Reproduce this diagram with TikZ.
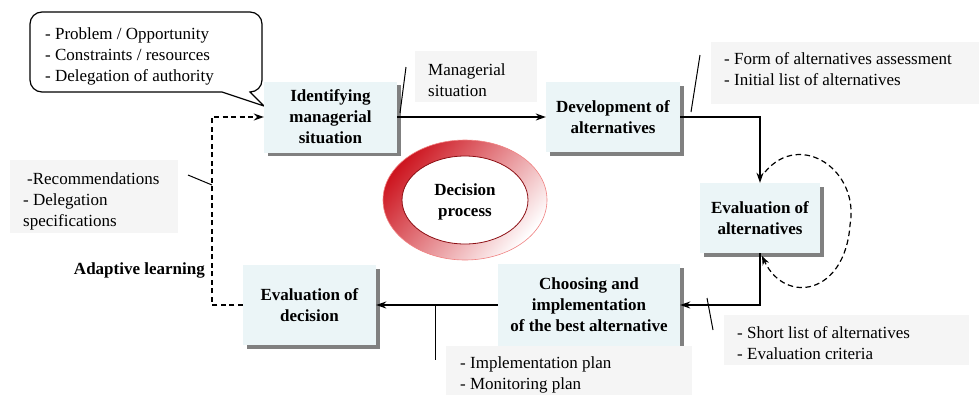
\documentclass[tikz,border=0pt]{standalone}
\usepackage{fontspec}
\setmainfont{Liberation Serif}
\usetikzlibrary{arrows.meta,shadows}
\definecolor{boxfill}{RGB}{235,245,247}
\definecolor{notefill}{RGB}{245,245,245}
\definecolor{ringred}{RGB}{205,22,32}
\definecolor{ringdark}{RGB}{140,15,20}
\definecolor{ringedge}{RGB}{240,130,130}
\begin{document}
\begin{tikzpicture}[x=1pt,y=-1pt,
  font=\fontsize{17}{21}\selectfont,
  stagebox/.style={fill=boxfill, font=\fontsize{17}{21}\selectfont\bfseries,
    align=center, inner sep=0pt,
    drop shadow={shadow xshift=3.5pt, shadow yshift=-3.5pt, fill=black!50, opacity=1}},
  notebox/.style={fill=notefill, inner sep=0pt},
  notetext/.style={align=left, anchor=west, inner sep=0pt},
  flow/.style={line width=1.2pt, -{Stealth[length=10pt,width=7pt]}},
  leader/.style={line width=1pt},
  loopline/.style={line width=1.2pt, dash pattern=on 5.5pt off 3.5pt},
]
\useasboundingbox (0,0) rectangle (979,394);

% speech bubble with the starting inputs
\draw[line width=1.2pt, fill=white]
  (222,92) -- (42,92) arc[start angle=90, end angle=180, radius=12]
  -- (30,24) arc[start angle=180, end angle=270, radius=12]
  -- (250,12) arc[start angle=270, end angle=360, radius=12]
  -- (262,80) arc[start angle=0, end angle=90, radius=12]
  -- (264,106) -- cycle;
\node[notetext] (inputs) at (45,56)
  {- Problem / Opportunity\\- Constraints / resources\\- Delegation of authority};

% stages of the process
\node[stagebox, minimum width=133pt, minimum height=71pt] (ident) at (330.5,117)
  {Identifying\\managerial\\situation};
\node[stagebox, minimum width=134pt, minimum height=70pt] (dev) at (613,117)
  {Development of\\alternatives};
\node[stagebox, minimum width=120pt, minimum height=70pt] (evalalt) at (760,218)
  {Evaluation of\\alternatives};
\node[stagebox, minimum width=182pt, minimum height=82pt] (choose) at (589,305)
  {Choosing and\\implementation\\of the best alternative};
\node[stagebox, minimum width=133pt, minimum height=80pt] (evaldec) at (309.5,305)
  {Evaluation of\\decision};

% central ring
\shade[even odd rule, top color=ringred, bottom color=white, shading angle=50]
  (465,200) ellipse[x radius=82, y radius=60]
  (465,200) ellipse[x radius=63, y radius=44];
\draw[ringedge, line width=0.6pt] (465,200) ellipse[x radius=82, y radius=60];
\draw[ringdark, line width=0.8pt] (465,200) ellipse[x radius=63, y radius=44];
\node[font=\fontsize{17}{21}\selectfont\bfseries, align=center] (dp) at (465,202)
  {Decision\\process};

% notes on the flows
\node[notebox, minimum width=122pt, minimum height=51pt] (nmanag) at (476,76.5) {};
\node[notetext] (tmanag) at (428,80) {Managerial\\situation};
\node[notebox, minimum width=268pt, minimum height=62pt] (nform) at (845,73) {};
\node[notetext] (tform) at (724,69) {- Form of alternatives assessment\\- Initial list of alternatives};
\node[notebox, minimum width=245pt, minimum height=50pt] (nshort) at (846.5,340) {};
\node[notetext] (tshort) at (737,343) {- Short list of alternatives\\- Evaluation criteria};
\node[notebox, minimum width=168pt, minimum height=73pt] (nrec) at (94,196.5) {};
\node[notetext] (trec) at (23,201.5) {\hspace{4pt}-Recommendations\\- Delegation\\specifications};
\node[font=\fontsize{17}{21}\selectfont\bfseries, anchor=east, inner sep=0pt] (adapt) at (205,270)
  {Adaptive learning};

% flows between the stages
\draw[flow] (ident.east) -- (dev.west);
\draw[flow] (dev.east) -| (evalalt.north);
\draw[flow] (evalalt.south) |- (choose.east);
\draw[flow] (choose.west) -- (evaldec.east);
\coordinate (fb) at (212,305);
\draw[flow, dash pattern=on 5pt off 3.5pt] (evaldec.west) -- (fb) |- (ident.west);

% iteration loop on the evaluation of alternatives
\coordinate (loopa) at (765,172);
\coordinate (loopb) at (762,256);
\draw[loopline, -{Stealth[length=9pt,width=7pt]}]
  (loopa) .. controls (800,130) and (860,170) .. (850,225)
  .. controls (845,295) and (785,305) .. (loopb);

% note drawn over the lower flow
\node[notebox, minimum width=246pt, minimum height=56pt] (nimpl) at (569,374) {};
\node[notetext] (timpl) at (460,375) {- Implementation plan\\- Monitoring plan};

% leaders from the notes to the flows
\coordinate (l1a) at (400,113); \coordinate (l1b) at (406,67);
\draw[leader] (l1a) -- (l1b);
\coordinate (l2a) at (691,112); \coordinate (l2b) at (700,55);
\draw[leader] (l2a) -- (l2b);
\coordinate (l3a) at (188,175); \coordinate (l3b) at (212,185);
\draw[leader] (l3a) -- (l3b);
\coordinate (l4a) at (707,298); \coordinate (l4b) at (713,330);
\draw[leader] (l4a) -- (l4b);
\coordinate (l5a) at (435,305); \coordinate (l5b) at (435,360);
\draw[leader] (l5a) -- (l5b);
\end{tikzpicture}
\end{document}
